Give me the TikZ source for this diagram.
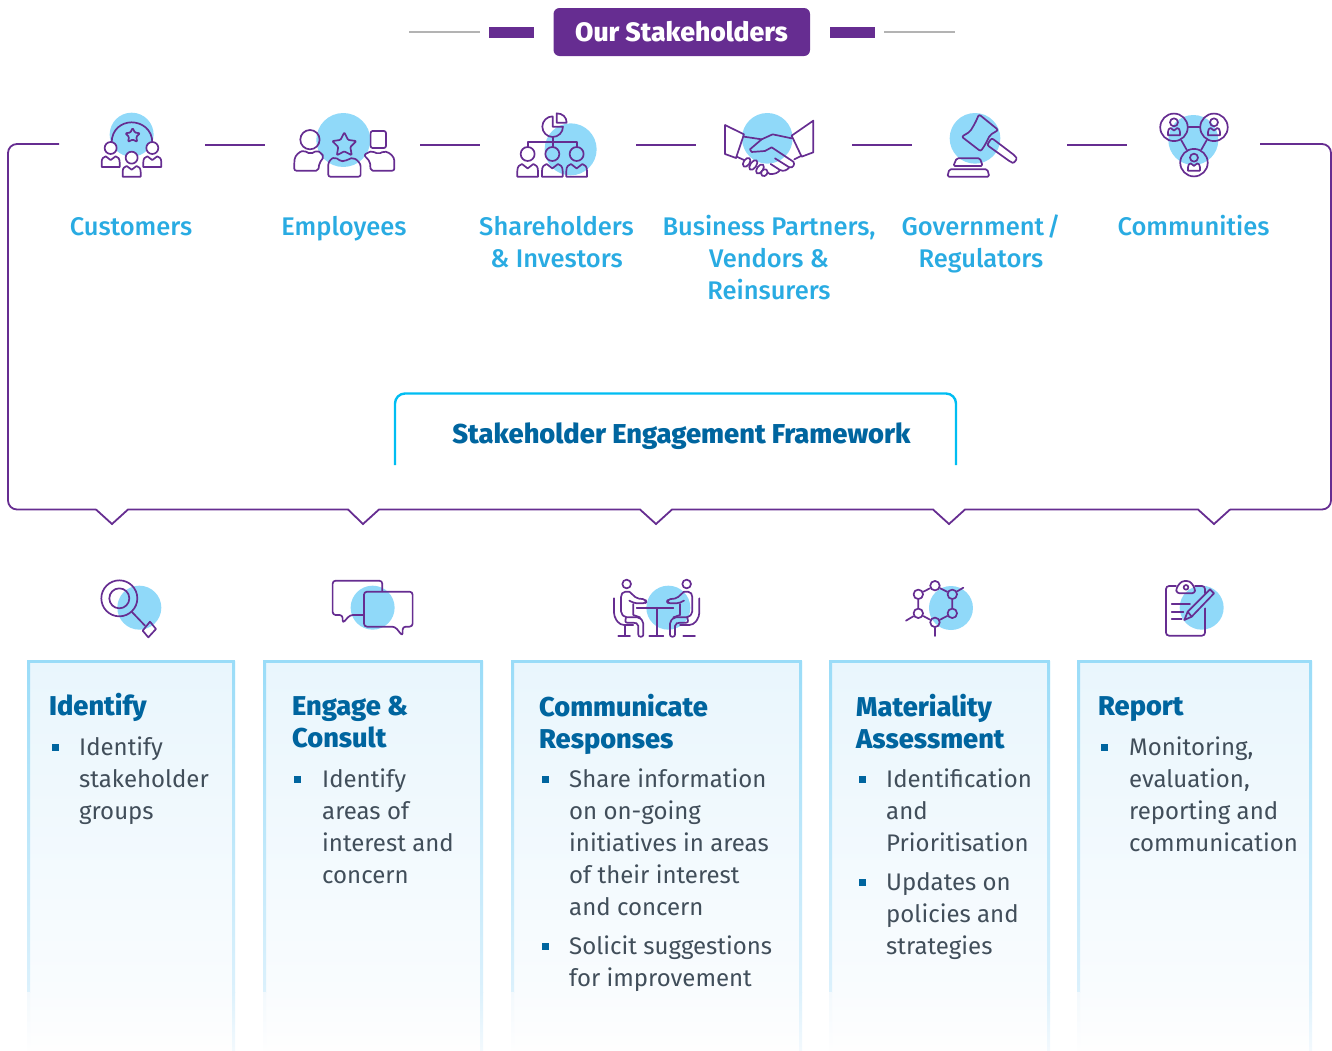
\documentclass[tikz,border=0pt]{standalone}
\usepackage{fontspec}
\setmainfont{Fira Sans}
\newfontfamily\medf{Fira Sans Medium}
\newfontfamily\xbf{Fira Sans ExtraBold}
\definecolor{pur}{HTML}{662D91}
\definecolor{sky}{HTML}{90D9F9}
\definecolor{lab}{HTML}{29ABE2}
\definecolor{navy}{HTML}{00659F}
\definecolor{bodyc}{HTML}{414E5A}
\definecolor{edgeA}{HTML}{9ADCF8}
\definecolor{edgeB}{HTML}{DCF1FC}
\definecolor{edgeC}{HTML}{F3F9FD}
\definecolor{tabc}{HTML}{00BDF2}
\definecolor{greyl}{HTML}{B3B3B3}
\definecolor{cardA}{HTML}{E9F6FD}
\definecolor{cardB}{HTML}{F9FCFE}
\definecolor{cardC}{HTML}{FEFEFE}
\tikzset{
  ic/.style={draw=pur,line width=1.7pt,line join=round,line cap=round},
  bubble/.style={fill=sky,draw=none},
  seg/.style={draw=pur,line width=1.8pt},
  lbl/.style={anchor=north,inner sep=0pt,align=center,text=lab,font=\medf\fontsize{25.5}{32}\selectfont,execute at begin node=\rule{0pt}{24pt}},
  head/.style={anchor=north west,inner sep=0pt,align=left,text=navy,font=\xbf\fontsize{27.2}{32}\selectfont,execute at begin node=\rule{0pt}{24pt}},
  bodyt/.style={anchor=north west,inner sep=0pt,align=left,text=bodyc,font=\fontsize{24}{32}\selectfont,execute at begin node=\rule{0pt}{24pt}},
  bul/.style={fill=navy,draw=none},
  mnode/.style={circle,ic,minimum size=9.5pt,inner sep=0pt}
}
\newcommand\bodyp[4]{\draw[ic,shift={(#1,#2)},xscale=#3,yscale=#4] (-1,1) -- (-1,.55) .. controls (-1,.2) and (-.8,.05) .. (-.55,0) -- (0,.35) -- (.55,0) .. controls (.8,.05) and (1,.2) .. (1,.55) -- (1,1) -- cycle;}
\newcommand\starp[3]{\draw[ic,shift={(#1,#2)},scale=#3,rounded corners=1pt] (-90:1) -- (-54:.5) -- (-18:1) -- (18:.5) -- (54:1) -- (90:.5) -- (126:1) -- (162:.5) -- (198:1) -- (234:.5) -- cycle;}
\newcommand\cardp[2]{%
  \shade[top color=cardA,bottom color=cardB] (#1,661) rectangle (#2,992);
  \shade[top color=cardB,bottom color=cardC] (#1,992) rectangle (#2,1050);
  \shade[top color=edgeA,bottom color=edgeB] (#1,661) rectangle ({#1+3},992);
  \shade[top color=edgeA,bottom color=edgeB] ({#2-3},661) rectangle (#2,992);
  \shade[top color=edgeC,bottom color=cardC] (#1,992) rectangle ({#1+3},1050);
  \shade[top color=edgeB,bottom color=edgeC] ({#2-3},992) rectangle (#2,1050);
  \fill[edgeA] (#1,660) rectangle (#2,663);}
\newcommand\bulp[2]{\fill[bul] ({#1-.5},{#2-12.5}) rectangle ({#1+6.5},{#2-5.5});}
\begin{document}
\begin{tikzpicture}[x=1pt,y=-1pt]
\useasboundingbox (0,0) rectangle (1332,1050);
% header
\coordinate (gl1) at (409,32); \coordinate (gl2) at (480,32);
\coordinate (gr1) at (884,32); \coordinate (gr2) at (955,32);
\draw[greyl,line width=1.2pt] (gl1) -- (gl2);
\draw[greyl,line width=1.2pt] (gr1) -- (gr2);
\fill[pur] (489,27) rectangle (534,38);
\fill[pur] (830,27) rectangle (875,38);
\fill[pur,rounded corners=6pt] (553.5,8) rectangle (810,56);
\node[anchor=base,inner sep=0pt,text=white,font=\xbf\fontsize{26.6}{32}\selectfont] (hdr) at (681.5,41) {Our Stakeholders};
% frame
\draw[seg,rounded corners=9pt] (59,144) -- (8,144) -- (8,509.5) -- (96,509.5);
\draw[seg] (96,509.5) -- (112,524) -- (128,509.5) -- (348,509.5) -- (363,524) -- (379,509.5) -- (640,509.5) -- (656,524) -- (672,509.5) -- (933,509.5) -- (949,524) -- (965,509.5) -- (1198,509.5) -- (1214,524) -- (1230,509.5);
\draw[seg,rounded corners=9pt] (1230,509.5) -- (1331,509.5) -- (1331,144) -- (1260,144);
\foreach \a/\b in {205/265,420/480,636/696,852/912,1067/1127}{
  \coordinate (sa) at (\a,145); \coordinate (sb) at (\b,145);
  \draw[seg] (sa) -- (sb);}
% Customers icon
\begin{scope}[shift={(0,90)},scale=.3333]
\fill[bubble] (395,134) circle (66);
\draw[ic] (335,158) .. controls (335,118) and (365,97) .. (395,97) .. controls (425,97) and (457,118) .. (457,158);
\starp{398}{137}{23}
\draw[ic,fill=white] (332,174) circle (18);
\draw[ic,fill=white] (457,174) circle (18);
\draw[ic,fill=white] (395,203) circle (18);
\bodyp{332}{199}{27}{32}
\bodyp{457}{199}{27}{32}
\bodyp{395}{228}{27}{32}
% Employees icon
\fill[bubble] (1030,150) circle (81);
\draw[ic] (930,149) circle (29);
\draw[ic,rounded corners=2pt] (1112,123) rectangle (1158,174);
\draw[ic,rounded corners=2pt] (883,242) -- (883,215) .. controls (885,195) and (900,185) .. (912,182) -- (932,192) -- (950,182) .. controls (958,185) and (968,195) .. (972,200) -- (958,220) -- (955,242) -- cycle;
\draw[ic,rounded corners=2pt] (1092,195) .. controls (1100,190) and (1110,185) .. (1118,184) -- (1135,192) -- (1152,184) .. controls (1170,188) and (1183,200) .. (1183,218) -- (1183,242) -- (1112,242) -- (1110,215) -- cycle;
\starp{1033}{165}{38}
\draw[ic,rounded corners=2pt] (985,260) -- (985,230) .. controls (985,215) and (995,205) .. (1005,203) .. controls (1015,207) and (1022,215) .. (1033,212) .. controls (1045,210) and (1050,205) .. (1060,204) .. controls (1072,210) and (1082,220) .. (1082,235) -- (1082,260) -- cycle;
\end{scope}
% Shareholders icon
\begin{scope}[shift={(450,90)},scale=.3333]
\fill[bubble] (362,178) circle (78);
\draw[ic] (308,79) .. controls (291,79) and (277,93) .. (277,110) .. controls (277,127) and (291,141) .. (308,141) .. controls (325,141) and (339,127) .. (339,110) -- (308,110) -- cycle;
\draw[ic] (320,98) -- (350,98) .. controls (350,82) and (338,70) .. (320,70) -- cycle;
\draw[ic] (308,141) -- (308,172);
\draw[ic] (233,172) -- (233,155) -- (380,155) -- (380,172);
\draw[ic] (233,192) circle (21);
\draw[ic] (307,192) circle (21);
\draw[ic] (380,192) circle (21);
\bodyp{233}{222}{31}{38}
\bodyp{307}{222}{31}{38}
\bodyp{380}{222}{31}{38}
% Handshake icon
\fill[bubble] (952,145) circle (76);
\draw[ic] (825,105) -- (882,133) -- (858,204) -- (825,192) -- cycle;
\draw[ic] (1090,92) -- (1025,137) -- (1055,200) -- (1090,187) -- cycle;
\draw[ic] (882,140) -- (935,148) -- (968,133) -- (1025,145);
\draw[ic] (935,148) -- (900,178) -- (905,186) -- (945,183) -- (965,172) -- (1030,215) .. controls (1036,222) and (1030,235) .. (1018,232) -- (975,205);
\draw[ic] (1018,232) .. controls (1010,242) and (1000,245) .. (990,240) -- (962,222);
\draw[ic] (990,240) .. controls (985,248) and (975,253) .. (960,252) -- (952,247);
\draw[ic] (860,200) -- (882,210);
\draw[ic] (1055,197) -- (1033,208);
\foreach \fx/\fy/\ry in {890/217/15,910/225/17,930/237/16,943/248/11}{
  \draw[ic,fill=white,rotate around={-35:(\fx,\fy)}] (\fx,\fy) ellipse [x radius=9,y radius=\ry];}
\end{scope}
% Gavel + Communities icons
\begin{scope}[shift={(890,90)},scale=.3333]
\fill[bubble] (255,145) circle (76);
\draw[ic,rounded corners=2pt] (267,73) -- (325,120) -- (300,135) -- (285,165) -- (272,184) -- (215,140) -- (240,125) -- (255,100) -- cycle;
\draw[ic,rounded corners=2pt] (305,144) -- (376,198) .. controls (382,208) and (372,220) .. (362,216) -- (291,165) -- cycle;
\draw[ic,rounded corners=1.5pt] (200,205) -- (270,205) -- (278,228) -- (190,228) -- cycle;
\draw[ic,rounded corners=1.5pt] (178,238) -- (292,238) -- (298,260) -- (172,260) -- cycle;
\fill[bubble] (910,150) circle (75);
\node[circle,ic,minimum size=27.5pt,inner sep=0pt] (ca) at (852,112) {};
\node[circle,ic,minimum size=27.5pt,inner sep=0pt] (cb) at (972,112) {};
\node[circle,ic,minimum size=27.5pt,inner sep=0pt] (cc) at (912,218) {};
\draw[ic] (ca) -- (cb);
\draw[ic] (ca) -- (cc);
\draw[ic] (cb) -- (cc);
\foreach \cx/\cy in {852/112,972/112,912/218}{
  \draw[ic] (\cx,\cy-15) circle (12);
  \bodyp{\cx}{\cy+2}{18}{22}}
\end{scope}
% labels
\node[lbl] (l1) at (131,211) {Customers};
\node[lbl] (l2) at (344,211) {Employees};
\node[lbl] (l3) at (556.5,216) {Shareholders\\\& Investors};
\node[lbl] (l4) at (769,215) {Business Partners,\\Vendors \&\\Reinsurers};
\node[lbl] (l5) at (981,215) {Government\hspace{3pt}/\\Regulators};
\node[lbl] (l6) at (1193.5,211) {Communities};
% tab
\draw[tabc,line width=2.4pt,rounded corners=10pt] (395,465) -- (395,393.5) -- (956,393.5) -- (956,465);
\node[anchor=base,inner sep=0pt,text=navy,font=\xbf\fontsize{27.3}{32}\selectfont] (fw) at (681.5,443) {Stakeholder Engagement Framework};
% lower icons
\begin{scope}[shift={(70,560)},scale=.3333]
\fill[bubble] (208,143) circle (66);
\draw[ic] (148,115) circle (54);
\draw[ic] (148,115) circle (30);
\draw[ic] (185,155) -- (225,197);
\draw[ic] (240,185) -- (258,207) -- (235,232) -- (218,212) -- cycle;
\fill[bubble] (908,143) circle (66);
\draw[ic,rounded corners=3pt] (882,165) -- (840,165) -- (818,190) -- (818,165) -- (788,165) -- (788,62) -- (937,62) -- (937,94);
\draw[ic,rounded corners=3pt] (975,200) -- (998,228) -- (998,200) -- (1028,200) -- (1028,95) -- (882,95) -- (882,200) -- cycle;
\end{scope}
\begin{scope}[shift={(590,560)},scale=.3333]
\fill[bubble] (235,143) circle (66);
\draw[ic] (110,72) circle (13);
\draw[ic] (290,72) circle (13);
\foreach \m in {0,1}{
\begin{scope}[shift={(400*\m,0)},xscale={1-2*\m}]
\draw[ic,rounded corners=2pt] (118,95) -- (100,95) -- (93,105) -- (93,160) -- (105,172) -- (148,172) -- (160,185) -- (160,230) -- (145,230) -- (145,192) -- (135,188) -- (105,188) -- (108,172);
\draw[ic,rounded corners=2pt] (118,95) -- (140,115) -- (165,118) -- (170,125) -- (165,130) -- (135,130) -- (118,122);
\draw[ic] (130,132) -- (130,165) -- (150,172);
\draw[ic,rounded corners=4pt] (72,115) -- (72,170) -- (90,195) -- (130,195);
\draw[ic] (85,228) -- (120,228);
\end{scope}}
\draw[ic] (105,195) -- (105,228);
\draw[ic] (140,143) -- (250,143);
\draw[ic] (200,143) -- (200,228);
\draw[ic] (178,228) -- (220,228);
\fill[bubble] (1083,144) circle (66);
\node[mnode] (m1) at (1035,77) {};
\node[mnode] (m2) at (1087,103) {};
\node[mnode] (m3) at (1087,160) {};
\node[mnode] (m4) at (1035,187) {};
\node[mnode] (m5) at (985,160) {};
\node[mnode] (m6) at (985,103) {};
\coordinate (w2) at (1120,83); \coordinate (w4) at (1035,228); \coordinate (w5) at (948,182);
\draw[ic] (m1) -- (m2) -- (m3) -- (m4) -- (m5) -- (m6) -- (m1);
\draw[ic] (m2) -- (w2);
\draw[ic] (m4) -- (w4);
\draw[ic] (m5) -- (w5);
\end{scope}
\begin{scope}[shift={(1140,560)},scale=.3333]
\fill[bubble] (185,143) circle (66);
\draw[ic,rounded corners=3pt] (108,78) -- (78,78) -- (78,227) -- (195,227) -- (195,145);
\draw[ic,rounded corners=3pt] (165,78) -- (195,78) -- (195,100);
\draw[ic,rounded corners=3pt] (110,100) -- (108,85) -- (125,63) -- (150,63) -- (165,85) -- (165,100) -- cycle;
\draw[ic] (138,82) circle (7);
\draw[ic] (95,132) -- (150,132);
\draw[ic] (95,155) -- (130,155);
\draw[ic] (95,178) -- (125,178);
\draw[ic] (133,180) -- (143,155) -- (210,88) -- (222,100) -- (155,170) -- cycle;
\draw[ic] (143,155) -- (155,170);
\end{scope}
% cards
\cardp{27}{235}\cardp{263}{483}\cardp{511}{802}\cardp{829}{1050}\cardp{1077}{1312}
% card text
\node[head] (h1) at (49,691) {Identify};
\node[head] (h2) at (292,696) {Engage \&\\Consult};
\node[head] (h3) at (539,694) {Communicate\\Responses};
\node[head] (h4) at (856,694) {Materiality\\Assessment};
\node[head] (h5) at (1098,691) {Report};
\bulp{52}{756}
\node[bodyt] (b1) at (79,737) {Identify\\stakeholder\\groups};
\bulp{294}{788}
\node[bodyt] (b2) at (322,769) {Identify\\areas of\\interest and\\concern};
\bulp{542}{788}
\node[bodyt] (b3) at (569,769) {Share information\\on on-going\\initiatives in areas\\of their interest\\and concern};
\bulp{542}{955}
\node[bodyt] (b3b) at (569,936) {Solicit suggestions\\for improvement};
\bulp{859}{788}
\node[bodyt] (b4) at (886,769) {Identification\\and\\Prioritisation};
\bulp{859}{891}
\node[bodyt] (b4b) at (886,872) {Updates on\\policies and\\strategies};
\bulp{1101}{756}
\node[bodyt] (b5) at (1129,737) {Monitoring,\\evaluation,\\reporting and\\communication};
\end{tikzpicture}
\end{document}
